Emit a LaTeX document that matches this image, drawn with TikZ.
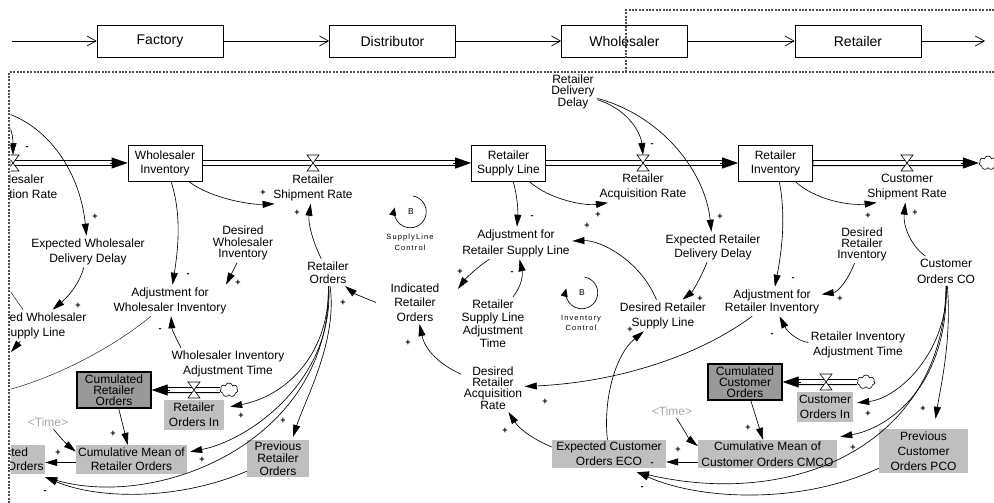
\documentclass[tikz,border=0pt]{standalone}
\usepackage{fontspec}
\setmainfont{Liberation Sans}
\newfontfamily\loopfont[LetterSpace=15]{Liberation Sans}
\usetikzlibrary{arrows.meta, positioning, shapes.symbols}

\begin{document}
\begin{tikzpicture}[x=1pt, y=-1pt,
  chainbox/.style={draw, line width=0.7pt, minimum width=126pt, minimum height=32pt, font=\fontsize{14}{16}\selectfont},
  chainarrow/.style={-{Straight Barb[length=9pt,width=10pt]}, line width=0.7pt},
  frameline/.style={black!70, line width=2pt, dash pattern=on 2pt off 1.4pt},
  aux/.style={align=center, inner sep=2.5pt, font=\fontsize{12}{#1}\selectfont},
  aux/.default=14,
  stockbox/.style={draw, fill=white, line width=0.8pt, minimum width=74pt, minimum height=36pt, inner sep=1pt, align=center, font=\fontsize{12}{14}\selectfont},
  grayaux/.style={fill=black!25, align=center, inner sep=1pt, font=\fontsize{12}{#1}\selectfont},
  grayaux/.default=14,
  graystock/.style={draw, fill=black!40, line width=1.4pt, minimum width=74pt, minimum height=36pt, inner sep=1pt, align=center, font=\fontsize{12}{11}\selectfont},
  pipeouter/.style={line width=6pt},
  pipeinner/.style={white, line width=3.8pt},
  pipetip/.style={-{Triangle[length=16pt,width=11pt]}, line width=0.8pt},
  link/.style={-{Triangle[length=12pt,width=7pt]}, line width=0.65pt},
  valve/.style={draw, fill=white, line width=0.6pt},
  cloudend/.style={cloud, draw, fill=white, cloud puffs=7, minimum width=18pt, minimum height=14pt, inner sep=0pt, line width=0.6pt},
  pol/.style={inner sep=0pt, font=\fontsize{9}{9}\selectfont\bfseries},
  looparrow/.style={-{Triangle[length=8pt,width=7pt]}, line width=0.65pt},
  looptext/.style={align=center, inner sep=0pt, font=\loopfont\fontsize{7.5}{#1}\selectfont}
]
  \useasboundingbox (0,0) rectangle (994,503);

  % Supply chain row
  \node[chainbox] (factory) at (160,41) {Factory};
  \node[chainbox] (distributor) at (392.5,41) {Distributor};
  \node[chainbox] (wholesaler) at (624.5,41) {Wholesaler};
  \node[chainbox] (retailer) at (858,41) {Retailer};
  \coordinate (chainIn) at (12,41);
  \coordinate (chainOut) at (985,41);
  \draw[chainarrow] (chainIn) -- (factory);
  \draw[chainarrow] (factory) -- (distributor);
  \draw[chainarrow] (distributor) -- (wholesaler);
  \draw[chainarrow] (wholesaler) -- (retailer);
  \draw[chainarrow] (retailer) -- (chainOut);

  \begin{scope}
    \clip (10.5,0) rectangle (994,503);

    % Valves, clouds and free ends
    \coordinate (pipeStart) at (-10,163);
    \coordinate (vWAcq) at (13,163);
    \coordinate (vRShip) at (313,163);
    \coordinate (vRAcq) at (643,163);
    \coordinate (vCShip) at (907,163);
    \coordinate (vROIn) at (194,390);
    \coordinate (vCOIn) at (826,382);
    \coordinate (wDelay) at (-5,110);
    \coordinate (wLeftA) at (8,288);
    \coordinate (wLeftB) at (11,352);
    \coordinate (wLeftC) at (0,392);
    \node[cloudend] (sinkC) at (988,163) {};
    \node[cloudend] (srcR) at (229,390) {};
    \node[cloudend] (srcC) at (866,382) {};

    % Stocks
    \node[stockbox] (wInv) at (165,163) {Wholesaler\\Inventory};
    \node[stockbox] (rSupply) at (508.5,163) {Retailer\\Supply Line};
    \node[stockbox] (rInv) at (775.5,163) {Retailer\\Inventory};
    \node[graystock] (cumROrders) at (114,390) {Cumulated\\Retailer\\Orders};
    \node[graystock] (cumCOrders) at (745,382) {Cumulated\\Customer\\Orders};

    % Pipes (outer line, white core, then head)
    \foreach \a/\b in {pipeStart/wInv.west, wInv.east/rSupply.west, rSupply.east/rInv.west, rInv.east/sinkC.west} {
      \draw[pipeouter] (\a) -- ([xshift=-15pt]\b);
      \draw[pipeinner] ([xshift=0.4pt]\a) -- ([xshift=-16pt]\b);
      \draw[pipetip] ([xshift=-18pt]\b) -- (\b);
    }
    \foreach \a/\b in {srcR.west/cumROrders.east, srcC.west/cumCOrders.east} {
      \draw[pipeouter] (\a) -- ([xshift=15pt]\b);
      \draw[pipeinner] (\a) -- ([xshift=16pt]\b);
      \draw[pipetip] ([xshift=18pt]\b) -- (\b);
    }
    \foreach \v in {vWAcq, vRShip, vRAcq, vCShip, vROIn, vCOIn}
      \draw[valve] ([shift={(-6,-8)}]\v) -- ([shift={(6,-8)}]\v) -- ([shift={(-6,8)}]\v) -- ([shift={(6,8)}]\v) -- cycle;

    % Flow labels
    \node[aux=15] (wAcqLbl) at (14,188) {Wholesaler\\Acquisition Rate};
    \node[aux=15] (rShipLbl) at (313,188) {Retailer\\Shipment Rate};
    \node[aux=15] (rAcqLbl) at (643,187) {Retailer\\Acquisition Rate};
    \node[aux=15] (cShipLbl) at (907,187) {Customer\\Shipment Rate};

    % Auxiliaries
    \node[aux=11] (rDelay) at (573,92) {Retailer\\Delivery\\Delay};
    \node[aux=15] (expWDelay) at (88,251.5) {Expected Wholesaler\\Delivery Delay};
    \node[aux=11.5] (desWInv) at (243,243) {Desired\\Wholesaler\\Inventory};
    \node[aux=13] (rOrders) at (328,272.5) {Retailer\\Orders};
    \node[aux=15] (adjWInv) at (170,300.5) {Adjustment for\\Wholesaler Inventory};
    \node[aux=15] (wInvTime) at (228,363.5) {Wholesaler Inventory\\Adjustment Time};
    \node[aux=15] (desWSupply) at (34,325.5) {Desired Wholesaler\\Supply Line};
    \node[aux=16] (adjRSupply) at (516,243) {Adjustment for\\Retailer Supply Line};
    \node[aux=14.5] (indROrders) at (415,302.5) {Indicated\\Retailer\\Orders};
    \node[aux=13] (rSupplyTime) at (493,323.5) {Retailer\\Supply Line\\Adjustment\\Time};
    \node[aux=11.3] (desRAcq) at (493,388) {Desired\\Retailer\\Acquisition\\Rate};
    \node[aux=14] (expRDelay) at (713,247) {Expected Retailer\\Delivery Delay};
    \node[aux=15] (desRSupply) at (663,315.5) {Desired Retailer\\Supply Line};
    \node[aux=11] (desRInv) at (862,244) {Desired\\Retailer\\Inventory};
    \node[aux=16] (custOrders) at (946,271) {Customer\\Orders CO};
    \node[aux=13] (adjRInv) at (772,301.5) {Adjustment for\\Retailer Inventory};
    \node[aux=15] (rInvTime) at (858,344.5) {Retailer Inventory\\Adjustment Time};
    \node[aux, text=black!35] (timeR) at (48,422) {<Time>};
    \node[aux, text=black!35] (timeC) at (672,411) {<Time>};

    % Shadow variables
    \node[grayaux=15, minimum width=60pt, minimum height=30pt] (rOrdersIn) at (194,415) {Retailer\\Orders In};
    \node[grayaux=14, minimum width=111pt, minimum height=29pt] (cumMeanR) at (131.5,459.5) {Cumulative Mean of\\Retailer Orders};
    \node[grayaux=12.5, minimum width=62pt, minimum height=37pt] (prevROrders) at (278,458.5) {Previous\\Retailer\\Orders};
    \node[grayaux=14, minimum width=84pt, minimum height=29pt] (expROrders) at (3,459.5) {Expected\\Retailer Orders};
    \node[grayaux=15, minimum width=56pt, minimum height=30pt] (cOrdersIn) at (825,407) {Customer\\Orders In};
    \node[grayaux=16, minimum width=139pt, minimum height=28pt] (cumMeanC) at (767.5,454) {Cumulative Mean of\\Customer Orders CMCO};
    \node[grayaux=15, minimum width=89pt, minimum height=44pt] (prevCOrders) at (923.5,451) {Previous\\Customer\\Orders PCO};
    \node[grayaux=15, minimum width=114pt, minimum height=28pt] (expCOrders) at (609,454) {Expected Customer\\Orders ECO};

    % Loops
    \node[inner sep=0pt, font=\fontsize{8.5}{9}\selectfont] (loopB1) at (411,212) {B};
    \draw[looparrow] (413,196) arc[start angle=-80, end angle=195, radius=16];
    \node[looptext=11] (loopL1) at (410,242.5) {SupplyLine\\Control};
    \node[inner sep=0pt, font=\fontsize{8.5}{9}\selectfont] (loopB2) at (582,293) {B};
    \draw[looparrow] (584.5,277) arc[start angle=-80, end angle=195, radius=16];
    \node[looptext=10] (loopL2) at (581,323) {Inventory\\Control};

    % Wholesaler links
    \draw[link] (wDelay) .. controls (10,118) and (13,135) .. ([yshift=8pt]vWAcq);
    \draw[link] (wDelay) .. controls (45,120) and (80,170) .. (expWDelay);
    \draw[link] (expWDelay) .. controls (80,282) and (70,295) .. (desWSupply);
    \draw (wLeftA) -- (desWSupply);
    \draw[link] (desWSupply) -- (wLeftB);
    \draw (adjWInv) .. controls (110,350) and (50,380) .. (wLeftC);
    \draw[link] (wInv) .. controls (182,215) and (178,250) .. (adjWInv);
    \draw[link] ([xshift=-6pt]desWInv.south) -- ([xshift=-3pt]adjWInv.north east);
    \draw[link] ([xshift=12pt]wInvTime.north west) .. controls (178,342) and (172,330) .. (adjWInv);
    \draw[link] (wInv) .. controls (210,198) and (250,205) .. ([xshift=4pt]rShipLbl.south west);
    \draw[link] (rOrders) .. controls (312,240) and (308,222) .. (rShipLbl);

    % Retailer orders bundle
    \draw[link] (rOrders) .. controls (330,350) and (290,395) .. ([xshift=6pt,yshift=-7pt]rOrdersIn.north east);
    \draw[link] (rOrders) .. controls (338,340) and (305,400) .. ([xshift=15pt,yshift=3pt]prevROrders.north);
    \draw[link] (rOrders) .. controls (334,380) and (250,440) .. ([xshift=3pt,yshift=-7pt]cumMeanR.north east);
    \draw[link] (rOrders) .. controls (332,440) and (160,510) .. ([yshift=-3pt]expROrders.south east);
    \draw[link] ([yshift=6pt]prevROrders.south west) .. controls (180,500) and (100,500) .. ([yshift=-3pt]expROrders.south east);
    \draw[link] (cumROrders) -- (cumMeanR);
    \draw[link] (timeR) .. controls (62,440) and (70,447) .. ([yshift=8pt]cumMeanR.west);
    \draw[link] ([yshift=-3pt]cumMeanR.west) -- ([yshift=-3pt]expROrders.east);

    % Retailer links
    \draw[link] (rDelay) .. controls (630,110) and (641,135) .. ([yshift=8pt]vRAcq);
    \draw[link] (rDelay) .. controls (660,115) and (705,170) .. (expRDelay);
    \draw[link] (rSupply) .. controls (518,200) and (518,212) .. (adjRSupply);
    \draw[link] (rSupply) .. controls (550,200) and (585,206) .. ([xshift=11pt]rAcqLbl.south west);
    \draw[link] (desRSupply) .. controls (640,260) and (600,240) .. (adjRSupply);
    \draw[link] (rSupplyTime) .. controls (522,285) and (523,275) .. (adjRSupply);
    \draw[link] (adjRSupply) .. controls (480,265) and (466,278) .. ([xshift=16pt,yshift=-8pt]indROrders.north east);
    \draw[link] ([xshift=-12pt]indROrders.west) .. controls (365,298) and (355,294) .. (rOrders);
    \draw[link] (desRAcq) .. controls (440,365) and (425,350) .. (indROrders);
    \draw[link] (adjRInv) .. controls (700,355) and (620,382) .. (desRAcq);
    \draw[link] ([yshift=7pt]expCOrders.west) .. controls (535,440) and (520,430) .. (desRAcq);
    \draw[link] (expCOrders) .. controls (603,400) and (615,355) .. (desRSupply);
    \draw[link] (expRDelay) .. controls (700,280) and (692,292) .. (desRSupply);
    \draw[link] (rInv) .. controls (815,200) and (850,206) .. ([xshift=12pt]cShipLbl.south west);
    \draw[link] (custOrders) .. controls (910,245) and (903,225) .. (cShipLbl);
    \draw[link] (rInv) .. controls (786,215) and (782,250) .. (adjRInv);
    \draw[link] (desRInv) .. controls (848,280) and (838,292) .. (adjRInv);
    \draw[link] (rInvTime) .. controls (800,342) and (788,333) .. (adjRInv);

    % Customer orders bundle
    \draw[link] (custOrders) .. controls (948,350) and (900,398) .. ([xshift=4pt,yshift=-11pt]cOrdersIn.north east);
    \draw[link] (custOrders) .. controls (952,340) and (940,390) .. ([xshift=12pt,yshift=10pt]prevCOrders.north);
    \draw[link] (custOrders) .. controls (948,385) and (890,428) .. ([xshift=3pt,yshift=3pt]cumMeanC.north east);
    \draw[link] (custOrders) .. controls (945,440) and (800,510) .. ([xshift=28pt,yshift=-4pt]expCOrders.south);
    \draw[link] ([yshift=5pt]prevCOrders.south west) .. controls (800,505) and (700,500) .. ([xshift=28pt,yshift=-4pt]expCOrders.south);
    \draw[link] (cumCOrders) -- (cumMeanC);
    \draw[link] (timeC) .. controls (684,430) and (690,440) .. ([yshift=8pt]cumMeanC.west);
    \draw[link] ([yshift=-8pt]cumMeanC.west) -- ([yshift=-8pt]expCOrders.east);

    % Polarities
    \foreach \px/\py/\ps [count=\k] in {27/148/-, 95/217/+, 78/306/+, 188/275/-, 238/283/+, 160/330/-,
        263/193/+, 297/213/+, 241/416/+, 283/421/+, 202/460/+, 58/453/+, 45/492/-, 113/434/+,
        652/145/-, 720/217/+, 532/217/-, 598/215/+, 587/226/+, 512/273/-, 460/272/+, 343/303/+,
        408/343/+, 545/402/+, 505/431/+, 630/330/+, 700/299/+, 868/216/+, 915/213/+, 793/279/-,
        840/299/+, 772/335/-, 868/414/+, 923/409/+, 853/448/+, 748/428/+, 678/450/+, 652/464/-, 642/488/-}
      \node[pol] (pol\k) at (\px,\py) {\ps};
  \end{scope}

  % System boundaries
  \draw[frameline] (9,503) -- (9,72) -- (994,72);
  \draw[frameline] (626,72) -- (626,10) -- (994,10);
\end{tikzpicture}
\end{document}
